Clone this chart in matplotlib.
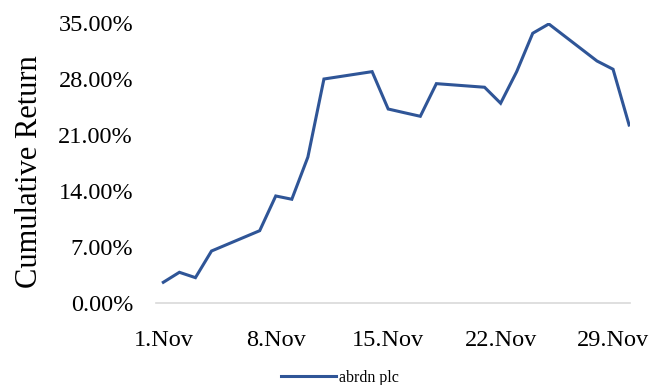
import matplotlib
matplotlib.use("Agg")
from matplotlib import pyplot as plt
from matplotlib.ticker import FuncFormatter

# Trading days in November 2022 and the cumulative return (%) on each
days = [1, 2, 3, 4, 7, 8, 9, 10, 11, 14, 15, 16, 17, 18, 21, 22, 23, 24, 25, 28, 29, 30]
cum_return = [2.65, 3.9, 3.23, 6.56, 9.1, 13.44, 13.03, 18.3, 28.06, 28.98, 24.31,
              23.85, 23.4, 27.48, 27.03, 25.03, 28.98, 33.78, 34.94, 30.31, 29.28, 22.31]
tick_days = [1, 8, 15, 22, 29]
tick_labels = ["1.Nov", "8.Nov", "15.Nov", "22.Nov", "29.Nov"]
y_ticks = [0, 7, 14, 21, 28, 35]

plt.rcParams["font.family"] = ["Liberation Serif", "DejaVu Serif"]

fig = plt.figure(figsize=(6.65, 3.85), dpi=100)
ax = fig.add_axes([0.2346, 0.2117, 0.7124, 0.7273])

line, = ax.plot(days, cum_return, color="#2F5597", lw=2.2, solid_joinstyle="miter",
                label="abrdn plc")

ax.set_xlim(0.545, 30.04)
ax.set_ylim(0, 35)
ax.set_xticks(tick_days)
ax.set_xticklabels(tick_labels)
ax.set_yticks(y_ticks)
ax.yaxis.set_major_formatter(FuncFormatter(lambda v, p: f"{v:.2f}%"))

for side in ["top", "right", "left"]:
    ax.spines[side].set_visible(False)
ax.spines["bottom"].set_color("#d9d9d9")
ax.spines["bottom"].set_linewidth(1.2)

ax.tick_params(axis="both", length=0, labelsize=17.5, labelcolor="black")
ax.tick_params(axis="x", pad=19)
ax.tick_params(axis="y", pad=16.5)

fig.text(30 / 665, 1 - 172 / 385, "Cumulative Return", rotation=90,
         ha="center", va="center", fontsize=22)

fig.legend(handles=[line], loc="center", bbox_to_anchor=(340 / 665, 1 - 377.7 / 385),
           frameon=False, fontsize=11.5, handlelength=3.4, handletextpad=0.2)

plt.savefig("out.png", dpi=100)
